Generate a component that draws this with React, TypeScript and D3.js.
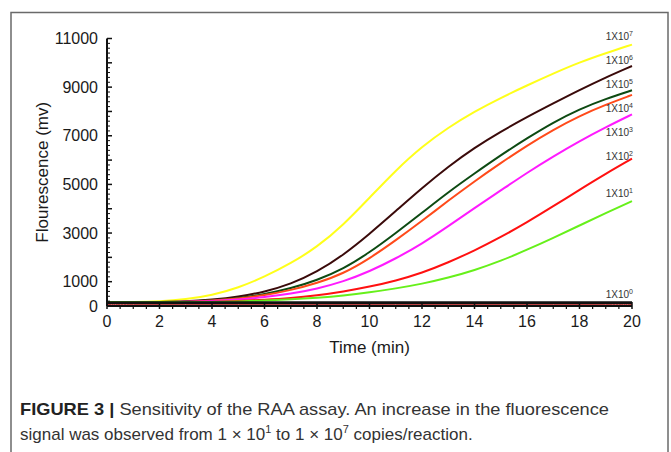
import React from 'react';
import * as d3 from 'd3';

// time axis (min)
const minutes = [0, 1, 2, 3, 4, 5, 6, 7, 8, 9, 10, 11, 12, 13, 14, 15, 16, 17, 18, 19, 20];

// fluorescence (mv), one value per minute
const copies1e7 = [160, 165, 190, 270, 440, 750, 1200, 1750, 2420, 3330, 4450, 5580, 6560, 7340, 8000, 8560, 9070, 9560, 10020, 10400, 10750];
const copies1e6 = [160, 160, 165, 180, 260, 380, 580, 900, 1400, 2090, 2960, 3900, 4850, 5730, 6510, 7170, 7770, 8330, 8880, 9400, 9870];
const copies1e5 = [160, 160, 160, 170, 230, 320, 480, 720, 1060, 1520, 2200, 3000, 3830, 4680, 5450, 6200, 6900, 7550, 8100, 8520, 8870];
const copies1e4 = [160, 160, 160, 165, 220, 300, 440, 650, 940, 1330, 1950, 2700, 3500, 4330, 5130, 5880, 6600, 7250, 7820, 8280, 8680];
const copies1e3 = [160, 160, 160, 165, 200, 260, 360, 500, 710, 1000, 1420, 1950, 2560, 3280, 4030, 4750, 5480, 6150, 6780, 7350, 7880];
const copies1e2 = [160, 160, 160, 160, 175, 205, 255, 320, 435, 590, 790, 1040, 1360, 1790, 2280, 2830, 3440, 4100, 4780, 5440, 6060];
const copies1e1 = [160, 160, 160, 160, 165, 185, 220, 270, 340, 430, 560, 720, 910, 1160, 1470, 1850, 2310, 2800, 3310, 3820, 4310];
const copies1e0 = [140, 140, 140, 140, 140, 140, 140, 140, 140, 140, 140, 140, 140, 140, 140, 140, 140, 140, 140, 140, 140];
const blank = [55, 55, 55, 55, 55, 55, 55, 55, 55, 55, 55, 55, 55, 55, 55, 55, 55, 55, 55, 55, 55];

const exponents = [7, 6, 5, 4, 3, 2, 1, 0];
const seriesValues = [copies1e7, copies1e6, copies1e5, copies1e4, copies1e3, copies1e2, copies1e1, copies1e0];
const seriesColors = ['#ffff1a', '#3a0a0a', '#0d4a12', '#ff4a1a', '#ff1aff', '#ff1010', '#66f01a', '#111111'];

const yTickLabels = [0, 1000, 3000, 5000, 7000, 9000, 11000];
const xTickLabels = [0, 2, 4, 6, 8, 10, 12, 14, 16, 18, 20];

const W = 671;
const H = 452;
const left = 107, right = 632, top = 38.5, bottom = 306;

export default function App() {
  const x = d3.scaleLinear().domain([0, 20]).range([left, right]);
  const y = d3.scaleLinear().domain([0, 11000]).range([bottom, top]);

  const line = d3
    .line<number>()
    .x((_, i) => x(minutes[i]))
    .y((v) => y(v))
    .curve(d3.curveBasis);

  const yMajor = d3.range(0, 11001, 1000);
  const yMinor = d3.range(0, 11001, 200).filter((v) => v % 1000 !== 0);
  const xMinor = d3.range(0, 20.01, 0.5).filter((v) => v % 2 !== 0);

  // series labels: just above line end, pushed down when crowded
  let prev = -Infinity;
  const labelY = seriesValues.map((vals) => {
    let ly = y(vals[vals.length - 1]) - 8;
    if (ly < prev + 24) ly = prev + 24;
    prev = ly;
    return ly;
  });

  const font = "'Liberation Sans', Arial, sans-serif";

  return (
    <svg
      width={W}
      height={H}
      style={{ position: 'absolute', left: 0, top: 0, background: '#fff' }}
      fontFamily={font}
    >
      <rect x={11} y={12.5} width={657} height={470} fill="none" stroke="#6a6a6a" strokeWidth={1.5} />

      {/* lines */}
      {seriesValues.slice(0, 7).map((vals, i) => (
        <path key={i} d={line(vals) || ''} fill="none" stroke={seriesColors[i]} strokeWidth={2} />
      ))}
      <path d={line(blank) || ''} fill="none" stroke="#b02020" strokeWidth={1} />
      <path d={line(copies1e0) || ''} fill="none" stroke={seriesColors[7]} strokeWidth={2.6} />

      {/* y axis */}
      <line x1={left} x2={left} y1={top} y2={bottom} stroke="#111" strokeWidth={2} />
      {yMajor.map((v) => (
        <line key={'ym' + v} x1={left} x2={left + 5} y1={y(v)} y2={y(v)} stroke="#111" strokeWidth={1.5} />
      ))}
      {yMinor.map((v) => (
        <line key={'yn' + v} x1={left} x2={left + 3} y1={y(v)} y2={y(v)} stroke="#111" strokeWidth={1} />
      ))}
      {yTickLabels.map((v) => (
        <text key={'yl' + v} x={left - 9} y={y(v)} dy="0.35em" textAnchor="end" fontSize={16} fill="#1a1a1a">
          {v}
        </text>
      ))}

      {/* x axis */}
      <line x1={left} x2={right} y1={bottom} y2={bottom} stroke="#111" strokeWidth={2.2} />
      {xTickLabels.map((v) => (
        <line key={'xm' + v} x1={x(v)} x2={x(v)} y1={bottom - 4} y2={bottom + 3} stroke="#111" strokeWidth={1.5} />
      ))}
      {xMinor.map((v) => (
        <line key={'xn' + v} x1={x(v)} x2={x(v)} y1={bottom} y2={bottom + 3} stroke="#111" strokeWidth={1.2} />
      ))}
      {xTickLabels.map((v) => (
        <text key={'xl' + v} x={x(v)} y={bottom + 21} textAnchor="middle" fontSize={16} fill="#1a1a1a">
          {v}
        </text>
      ))}

      {/* axis titles */}
      <text x={(left + right) / 2} y={353} textAnchor="middle" fontSize={17} fill="#1a1a1a">
        Time (min)
      </text>
      <text
        transform={`translate(48,${(top + bottom) / 2}) rotate(-90)`}
        textAnchor="middle"
        fontSize={17}
        fill="#1a1a1a"
      >
        Flourescence (mv)
      </text>

      {/* series labels */}
      {exponents.map((e, i) => (
        <text key={'sl' + e} x={right + 1} y={labelY[i]} dy="0.35em" textAnchor="end" fontSize={10} fill="#333">
          1X10
          <tspan fontSize={7} dy={-4}>
            {e}
          </tspan>
        </text>
      ))}

      {/* caption */}
      <text x={20} y={415} fontSize={17} fill="#333" textLength={589} lengthAdjust="spacingAndGlyphs">
        <tspan fontWeight="bold" fill="#222">FIGURE 3 | </tspan>
        <tspan>Sensitivity of the RAA assay. An increase in the fluorescence</tspan>
      </text>
      <text x={20} y={440} fontSize={17} fill="#333">
        <tspan>signal was observed from 1 × 10</tspan>
        <tspan fontSize={11} dy={-7}>1</tspan>
        <tspan dy={7}> to 1 × 10</tspan>
        <tspan fontSize={11} dy={-7}>7</tspan>
        <tspan dy={7}> copies/reaction.</tspan>
      </text>
    </svg>
  );
}
